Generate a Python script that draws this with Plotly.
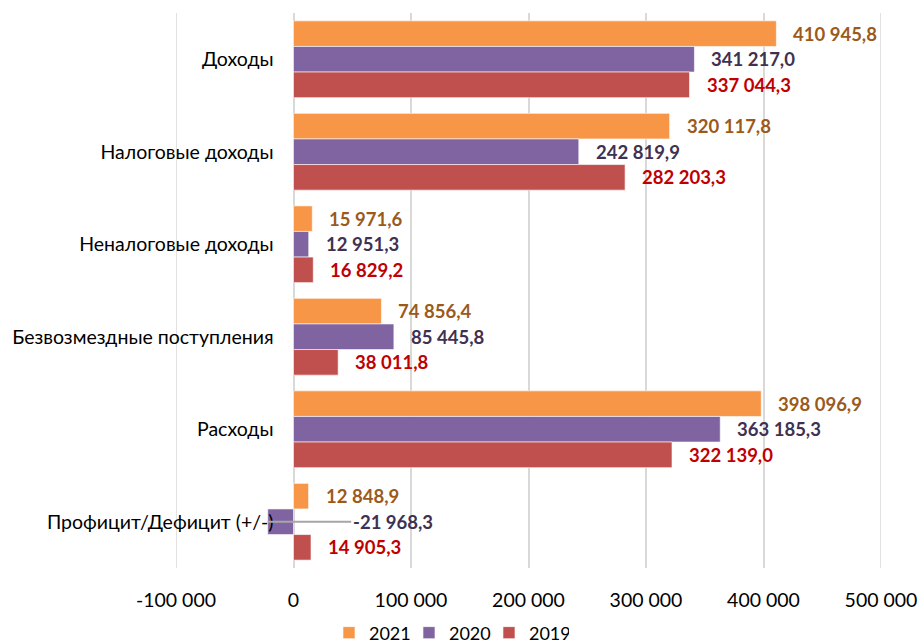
import plotly.graph_objects as go

categories = ["Доходы", "Налоговые доходы", "Неналоговые доходы",
              "Безвозмездные поступления", "Расходы", "Профицит/Дефицит (+/-)"]
series_names = ["2021", "2020", "2019"]
values_2021 = [410945.8, 320117.8, 15971.6, 74856.4, 398096.9, 12848.9]
values_2020 = [341217.0, 242819.9, 12951.3, 85445.8, 363185.3, -21968.3]
values_2019 = [337044.3, 282203.3, 16829.2, 38011.8, 322139.0, 14905.3]
x_tick_vals = [-100000, 0, 100000, 200000, 300000, 400000, 500000]
x_tick_text = ["-100 000", "0", "100 000", "200 000", "300 000", "400 000", "500 000"]

bar_colors = ["#F79646", "#8064A2", "#C0504D"]
label_colors = ["#9C5A1A", "#3F3151", "#C00000"]
all_values = [values_2021, values_2020, values_2019]

FONT = "Lato"
GRID = "#D9D9D9"
X_MIN, X_MAX = x_tick_vals[0], x_tick_vals[-1]


def fmt(v):
    s = f"{abs(v):,.1f}".replace(",", " ").replace(".", ",")
    return ("-" if v < 0 else "") + s


fig = go.Figure()
for name, vals, col in zip(series_names, all_values, bar_colors):
    fig.add_trace(go.Bar(
        y=categories, x=vals, name=name, orientation="h",
        marker=dict(color=col, line=dict(color="rgba(255,255,255,0.6)", width=1)),
    ))

# per-bar labels
bar_px = 25.7
shifts = [bar_px, 0, -bar_px]
annotations = []
for vals, lc, ys in zip(all_values, label_colors, shifts):
    for cat, v in zip(categories, vals):
        if v >= 0:
            annotations.append(dict(
                x=v, y=cat, xref="x", yref="y", text=fmt(v), showarrow=False,
                xanchor="left", xshift=15, yshift=ys,
                font=dict(family=FONT, size=18.5, color=lc, weight="bold"),
            ))
        else:
            annotations.append(dict(
                x=v, y=cat, xref="x", yref="y", text=fmt(v), showarrow=True,
                arrowhead=0, arrowwidth=2, arrowcolor="#A6A6A6",
                ax=125, ay=0, yshift=ys, standoff=0,
                font=dict(family=FONT, size=18.5, color=lc, weight="bold"),
            ))

# gridlines at the range edges (plotly omits them at the borders)
shapes = [dict(type="line", xref="x", yref="paper", x0=xv, x1=xv, y0=0, y1=1,
               line=dict(color=GRID, width=1.5), layer="below")
          for xv in (X_MIN, X_MAX)]

fig.update_layout(
    width=919, height=643,
    margin=dict(l=176, r=38, t=13, b=75, autoexpand=False),
    paper_bgcolor="white", plot_bgcolor="white",
    barmode="group", bargap=0.17, bargroupgap=0,
    font=dict(family=FONT, size=18, color="#000000"),
    annotations=annotations,
    shapes=shapes,
    legend=dict(orientation="h", x=0.217, xanchor="left", y=-0.117, yanchor="middle",
                font=dict(family=FONT, size=18, color="#000000"),
                itemwidth=30, entrywidth=35, entrywidthmode="pixels",
                traceorder="normal"),
    showlegend=True,
)
fig.update_xaxes(
    range=[X_MIN, X_MAX], tickvals=x_tick_vals, ticktext=x_tick_text,
    showgrid=True, gridcolor=GRID, gridwidth=1.5, zeroline=False,
    showline=False, ticks="", ticklabelstandoff=18, automargin=False,
    tickfont=dict(family=FONT, size=19.5, color="#000000"),
)
fig.update_yaxes(
    autorange="reversed", anchor="free", position=1 / 6,
    showgrid=False, zeroline=False, showline=False, ticks="",
    ticklabelstandoff=20, automargin=False,
    tickfont=dict(family=FONT, size=19.5, color="#000000"),
)

fig.write_html("out.html",
               config={"displayModeBar": False},
               post_script="document.body.style.margin='0';"
                           "document.body.style.overflow='hidden';")
